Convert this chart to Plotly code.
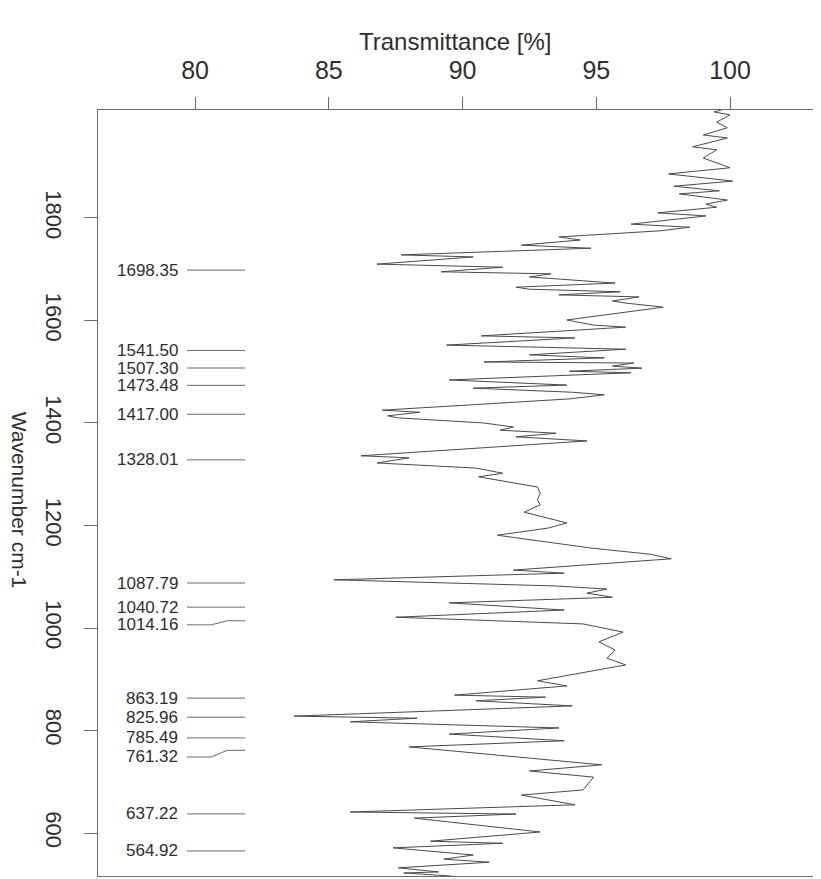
import plotly.graph_objects as go

# Spectrum: wavenumber (cm-1) and transmittance (%)
wavenumber = [
    2014, 2007, 2001, 1987, 1976, 1962, 1956, 1939, 1933, 1917,
    1898, 1886, 1872, 1862, 1853, 1847, 1835, 1827, 1821, 1810,
    1804, 1788, 1782, 1775, 1763, 1757, 1747, 1741, 1728, 1724,
    1710, 1704, 1695, 1691, 1685, 1673, 1665, 1661, 1656, 1650,
    1646, 1638, 1634, 1626, 1601, 1591, 1587, 1570, 1566, 1552,
    1544, 1533, 1527, 1519, 1517, 1511, 1507, 1501, 1498, 1484,
    1474, 1468, 1460, 1455, 1447, 1425, 1421, 1414, 1410, 1400,
    1392, 1386, 1380, 1373, 1365, 1336, 1332, 1322, 1312, 1302,
    1295, 1275, 1263, 1250, 1240, 1226, 1205, 1195, 1181, 1156,
    1144, 1135, 1113, 1107, 1094, 1082, 1076, 1068, 1060, 1049,
    1043, 1035, 1021, 1008, 992, 973, 957, 941, 928, 897,
    887, 869, 865, 858, 848, 828, 824, 817, 805, 793,
    780, 768, 733, 721, 709, 694, 684, 674, 655, 641,
    637, 629, 602, 584, 580, 571, 557, 549, 543, 532,
    524, 522, 516,
]
transmittance = [
    99.9, 99.4, 100.0, 99.5, 99.9, 99.0, 99.9, 98.6, 99.5, 99.0,
    100.0, 97.7, 100.1, 97.9, 99.6, 98.1, 99.9, 99.1, 99.5, 97.3,
    99.1, 96.3, 98.5, 97.4, 93.6, 94.4, 92.2, 94.8, 87.7, 90.4,
    86.8, 91.5, 89.2, 93.3, 92.5, 95.7, 92.0, 92.5, 95.9, 93.6,
    96.6, 95.6, 96.1, 97.5, 93.9, 94.9, 96.1, 90.7, 94.2, 89.4,
    96.1, 92.5, 95.3, 90.8, 96.4, 95.6, 96.7, 94.0, 96.3, 89.5,
    93.9, 90.4, 94.1, 95.3, 94.0, 87.0, 88.4, 87.2, 87.6, 90.8,
    91.9, 91.4, 93.5, 92.0, 94.65, 86.2, 88.0, 86.8, 90.5, 91.5,
    90.6, 92.8, 92.9, 92.8, 92.9, 92.3, 93.9, 93.2, 91.3, 94.8,
    97.0, 97.8, 91.9, 93.8, 85.2, 93.5, 95.4, 94.65, 95.6, 89.5,
    91.4, 93.8, 87.5, 94.5, 96.0, 95.1, 95.7, 95.4, 96.1, 92.8,
    93.9, 89.7, 93.1, 90.5, 94.1, 83.7, 88.3, 85.8, 93.6, 89.5,
    93.8, 88.0, 95.2, 92.5, 94.9, 94.65, 94.5, 92.2, 94.2, 85.8,
    92.0, 88.2, 92.9, 88.8, 91.5, 87.4, 90.4, 89.3, 91.0, 87.6,
    89.1, 87.8, 89.6,
]

# Peak annotations
peak_labels = ["1698.35", "1541.50", "1507.30", "1473.48", "1417.00", "1328.01",
               "1087.79", "1040.72", "1014.16", "863.19", "825.96", "785.49",
               "761.32", "637.22", "564.92"]
peak_wn = [1698.35, 1541.50, 1507.30, 1473.48, 1417.00, 1328.01,
           1087.79, 1040.72, 1014.16, 863.19, 825.96, 785.49,
           761.32, 637.22, 564.92]

x_ticks = [80, 85, 90, 95, 100]
y_ticks = [600, 800, 1000, 1200, 1400, 1600, 1800]

FONT = "Liberation Sans, Arial, sans-serif"
TXT = "#2e2e2e"
AX = "#6a6a6a"

# labels pushed down to avoid overlapping neighbours (in cm-1)
label_shift = {"1014.16": -8, "761.32": -13}

fig = go.Figure()
fig.add_trace(go.Scatter(x=transmittance, y=wavenumber, mode="lines",
                         line=dict(color="#4a4a4a", width=1), hoverinfo="skip"))

lx, ly = [], []
for lab, w in zip(peak_labels, peak_wn):
    s = label_shift.get(lab, 0)
    lx += [79.70, 80.60, 81.20, 81.87, None]
    ly += [w + s, w + s, w, w, None]
fig.add_trace(go.Scatter(x=lx, y=ly, mode="lines",
                         line=dict(color="#6a6a6a", width=1), hoverinfo="skip"))

annotations = []
for lab, w in zip(peak_labels, peak_wn):
    s = label_shift.get(lab, 0)
    annotations.append(dict(x=79.45, y=w + s, xref="x", yref="y", text=lab,
                            showarrow=False, xanchor="right", yanchor="middle",
                            font=dict(family=FONT, size=17, color=TXT)))
annotations.append(dict(x=0.495, y=1.0888, xref="paper", yref="paper",
                        text="Transmittance [%]", showarrow=False,
                        xanchor="center", yanchor="middle",
                        font=dict(family=FONT, size=24, color=TXT)))
annotations.append(dict(x=-0.109, y=0.491, xref="paper", yref="paper",
                        text="Wavenumber cm-1", showarrow=False, textangle=90,
                        xanchor="center", yanchor="middle",
                        font=dict(family=FONT, size=21, color=TXT)))

# the page adds an 8 px body margin, so the figure is 8 px smaller
fig.update_layout(
    width=813, height=871,
    margin=dict(l=90, r=0, t=102, b=3),
    paper_bgcolor="white", plot_bgcolor="white",
    showlegend=False,
    annotations=annotations,
    xaxis=dict(side="top", range=[76.37, 103.40], tickvals=x_ticks,
               ticks="outside", ticklen=12, tickcolor=AX, tickwidth=1,
               showline=True, linecolor=AX, linewidth=1, mirror=True,
               showgrid=False, zeroline=False, ticklabelstandoff=8,
               automargin=False,
               tickfont=dict(family=FONT, size=25, color=TXT)),
    yaxis=dict(range=[516.1, 2010.7], tickvals=y_ticks, tickangle=90,
               ticks="outside", ticklen=13, tickcolor=AX, tickwidth=1,
               showline=True, linecolor=AX, linewidth=1,
               showgrid=False, zeroline=False, ticklabelstandoff=12,
               automargin=False,
               tickfont=dict(family=FONT, size=22, color=TXT)),
)

fig.write_html("out.html")
